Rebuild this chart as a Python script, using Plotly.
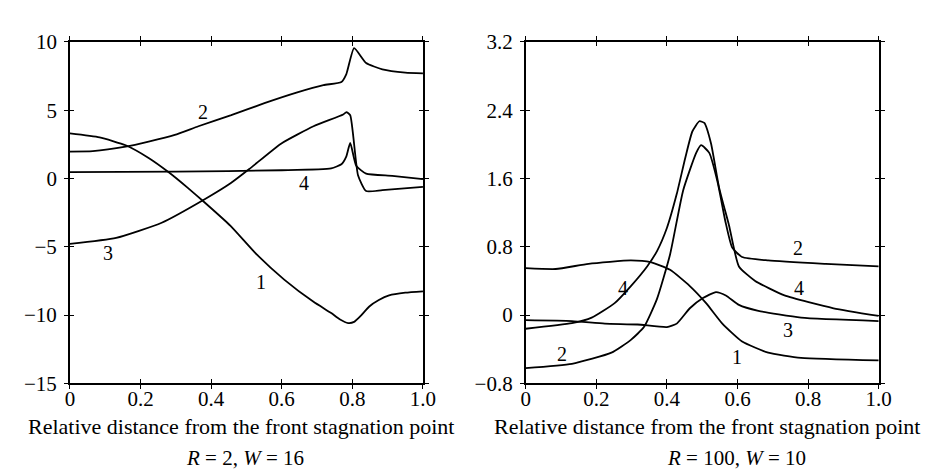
import plotly.graph_objects as go

# ---------- Left panel: R = 2, W = 16 ----------
L1_x = [0.0, 0.084, 0.158, 0.223, 0.279, 0.334, 0.381, 0.455, 0.529, 0.607, 0.69, 0.74, 0.764, 0.788, 0.805, 0.822, 0.848, 0.875, 0.904, 0.95, 1.0]
L1_y = [3.3, 3.01, 2.43, 1.5, 0.47, -0.69, -1.74, -3.47, -5.56, -7.4, -9.03, -9.85, -10.3, -10.58, -10.5, -10.1, -9.37, -8.9, -8.56, -8.36, -8.26]

L2_x = [0.0, 0.065, 0.158, 0.223, 0.297, 0.364, 0.457, 0.551, 0.644, 0.718, 0.769, 0.783, 0.805, 0.839, 0.885, 0.95, 1.0]
L2_y = [1.97, 2.0, 2.33, 2.7, 3.19, 3.82, 4.63, 5.51, 6.3, 6.83, 7.06, 7.64, 9.54, 8.45, 7.99, 7.75, 7.69]

L3_x = [0.0, 0.131, 0.26, 0.383, 0.455, 0.508, 0.598, 0.69, 0.774, 0.783, 0.794, 0.816, 0.839, 0.885, 1.0]
L3_y = [-4.79, -4.35, -3.24, -1.5, -0.35, 0.69, 2.55, 3.82, 4.68, 4.86, 4.63, 0.24, -0.92, -0.85, -0.62]

L4_x = [0.0, 0.3, 0.6, 0.74, 0.769, 0.783, 0.794, 0.811, 0.839, 0.913, 1.0]
L4_y = [0.47, 0.5, 0.6, 0.74, 1.04, 1.62, 2.6, 0.93, 0.35, 0.19, -0.05]

L_labels = ["2", "4", "3", "1"]
L_lab_x = [0.376, 0.663, 0.107, 0.54]
L_lab_y = [4.9, -0.35, -5.44, -7.6]

# ---------- Right panel: R = 100, W = 10 ----------
R1_x = [0.0, 0.085, 0.178, 0.298, 0.354, 0.409, 0.465, 0.511, 0.557, 0.613, 0.687, 0.78, 1.0]
R1_y = [0.55, 0.54, 0.6, 0.64, 0.62, 0.53, 0.34, 0.14, -0.1, -0.31, -0.44, -0.5, -0.53]

R2_x = [0.0, 0.131, 0.243, 0.298, 0.335, 0.372, 0.409, 0.446, 0.483, 0.497, 0.52, 0.544, 0.566, 0.585, 0.613, 0.687, 0.85, 1.0]
R2_y = [-0.62, -0.57, -0.44, -0.29, -0.14, 0.19, 0.71, 1.46, 1.9, 1.99, 1.9, 1.55, 1.09, 0.79, 0.68, 0.64, 0.6, 0.57]

R3_x = [0.0, 0.131, 0.224, 0.317, 0.4, 0.428, 0.465, 0.502, 0.539, 0.567, 0.604, 0.659, 0.78, 1.0]
R3_y = [-0.06, -0.07, -0.1, -0.11, -0.14, -0.1, 0.08, 0.2, 0.27, 0.23, 0.12, 0.05, -0.03, -0.07]

R4_x = [0.0, 0.131, 0.187, 0.252, 0.298, 0.344, 0.372, 0.4, 0.428, 0.452, 0.472, 0.492, 0.506, 0.525, 0.548, 0.576, 0.604, 0.65, 0.733, 0.872, 1.0]
R4_y = [-0.16, -0.095, -0.03, 0.14, 0.34, 0.57, 0.75, 1.02, 1.42, 1.84, 2.15, 2.27, 2.25, 2.01, 1.49, 1.05, 0.57, 0.4, 0.23, 0.08, -0.01]

R_labels = ["4", "2", "4", "3", "1", "2"]
R_lab_x = [0.275, 0.104, 0.775, 0.742, 0.599, 0.77]
R_lab_y = [0.32, -0.46, 0.32, -0.18, -0.49, 0.79]

X_TICKS = [0, 0.2, 0.4, 0.6, 0.8, 1.0]
X_TICKTEXT = ["0", "0.2", "0.4", "0.6", "0.8", "1.0"]
L_YTICKS = [10, 5, 0, -5, -10, -15]
L_YTICKTEXT = ["10", "5", "0", "\u22125", "\u221210", "\u221215"]
R_YTICKS = [3.2, 2.4, 1.6, 0.8, 0, -0.8]
R_YTICKTEXT = ["3.2", "2.4", "1.6", "0.8", "0", "\u22120.8"]

X_TITLE = "Relative distance from the front stagnation point"
L_SUB = "<i>R</i> = 2, <i>W</i> = 16"
R_SUB = "<i>R</i> = 100, <i>W</i> = 10"

FONT = "Liberation Serif, Times New Roman, serif"
INK = "#000000"

fig = go.Figure()
line = dict(color=INK, width=1.8, shape="spline", smoothing=0.5)

for xs, ys in [(L1_x, L1_y), (L2_x, L2_y), (L3_x, L3_y), (L4_x, L4_y)]:
    fig.add_trace(go.Scatter(x=xs, y=ys, mode="lines", line=line, xaxis="x", yaxis="y",
                             showlegend=False, hoverinfo="skip"))
for xs, ys in [(R1_x, R1_y), (R2_x, R2_y), (R3_x, R3_y), (R4_x, R4_y)]:
    fig.add_trace(go.Scatter(x=xs, y=ys, mode="lines", line=line, xaxis="x2", yaxis="y2",
                             showlegend=False, hoverinfo="skip"))
# invisible traces so the overlay (inside-tick) axes are drawn
fig.add_trace(go.Scatter(x=[0], y=[0], mode="markers", marker=dict(opacity=0), xaxis="x3", yaxis="y3",
                         showlegend=False, hoverinfo="skip"))
fig.add_trace(go.Scatter(x=[0], y=[0], mode="markers", marker=dict(opacity=0), xaxis="x4", yaxis="y4",
                         showlegend=False, hoverinfo="skip"))

ann = []
for t, x, y in zip(L_labels, L_lab_x, L_lab_y):
    ann.append(dict(text=t, x=x, y=y, xref="x", yref="y", showarrow=False,
                    font=dict(size=20, family=FONT, color=INK)))
for t, x, y in zip(R_labels, R_lab_x, R_lab_y):
    ann.append(dict(text=t, x=x, y=y, xref="x2", yref="y2", showarrow=False,
                    font=dict(size=20, family=FONT, color=INK)))

LDOM = [58 / 937, 418 / 937]
RDOM = [522.7 / 937, 882.7 / 937]
YDOM = [(476 - 382.7) / 476, (476 - 23) / 476]

for cx in (232 / 937, 708 / 937):
    ann.append(dict(text=X_TITLE, x=cx, y=1 - 428 / 476, xref="paper", yref="paper",
                    showarrow=False, xanchor="center", yanchor="middle",
                    font=dict(size=22, family=FONT, color=INK)))
for txt, cx in ((L_SUB, 236.7 / 937), (R_SUB, 738 / 937)):
    ann.append(dict(text=txt, x=cx, y=1 - 461 / 476, xref="paper", yref="paper",
                    showarrow=False, xanchor="center", yanchor="middle",
                    font=dict(size=21, family=FONT, color=INK)))

TICKFONT = dict(size=21, family=FONT, color=INK)
base = dict(showgrid=False, zeroline=False, tickcolor=INK, tickwidth=1.4)
out_ax = dict(showline=True, linecolor=INK, linewidth=1.6, mirror="ticks", ticks="outside",
              ticklen=4, **base)
in_ax = dict(showline=False, mirror="ticks", ticks="inside", ticklen=4, **base)

fig.update_layout(
    width=937, height=476,
    margin=dict(l=0, r=0, t=0, b=0),
    paper_bgcolor="white", plot_bgcolor="white",
    # outer axes: frame, outward ticks, y labels
    xaxis=dict(domain=LDOM, range=[0, 1], tickvals=X_TICKS, showticklabels=False,
               anchor="y", **out_ax),
    yaxis=dict(domain=YDOM, range=[-15, 10], tickvals=L_YTICKS, ticktext=L_YTICKTEXT,
               anchor="x", ticklabelstandoff=3, tickfont=TICKFONT, **out_ax),
    xaxis2=dict(domain=RDOM, range=[0, 1], tickvals=X_TICKS, showticklabels=False,
                anchor="y2", **out_ax),
    yaxis2=dict(domain=YDOM, range=[-0.8, 3.2], tickvals=R_YTICKS, ticktext=R_YTICKTEXT,
                anchor="x2", ticklabelstandoff=3, tickfont=TICKFONT, **out_ax),
    # overlay axes: inward ticks (crossing tick marks), x labels
    xaxis3=dict(domain=LDOM, range=[0, 1], tickvals=X_TICKS, ticktext=X_TICKTEXT, tickfont=TICKFONT,
                ticklabelstandoff=1, anchor="y3", overlaying="x", **in_ax),
    yaxis3=dict(domain=YDOM, range=[-15, 10], tickvals=L_YTICKS, showticklabels=False,
                anchor="x3", overlaying="y", **in_ax),
    xaxis4=dict(domain=RDOM, range=[0, 1], tickvals=X_TICKS, ticktext=X_TICKTEXT, tickfont=TICKFONT,
                ticklabelstandoff=1, anchor="y4", overlaying="x2", **in_ax),
    yaxis4=dict(domain=YDOM, range=[-0.8, 3.2], tickvals=R_YTICKS, showticklabels=False,
                anchor="x4", overlaying="y2", **in_ax),
    annotations=ann,
)

fig.write_html("out.html")
